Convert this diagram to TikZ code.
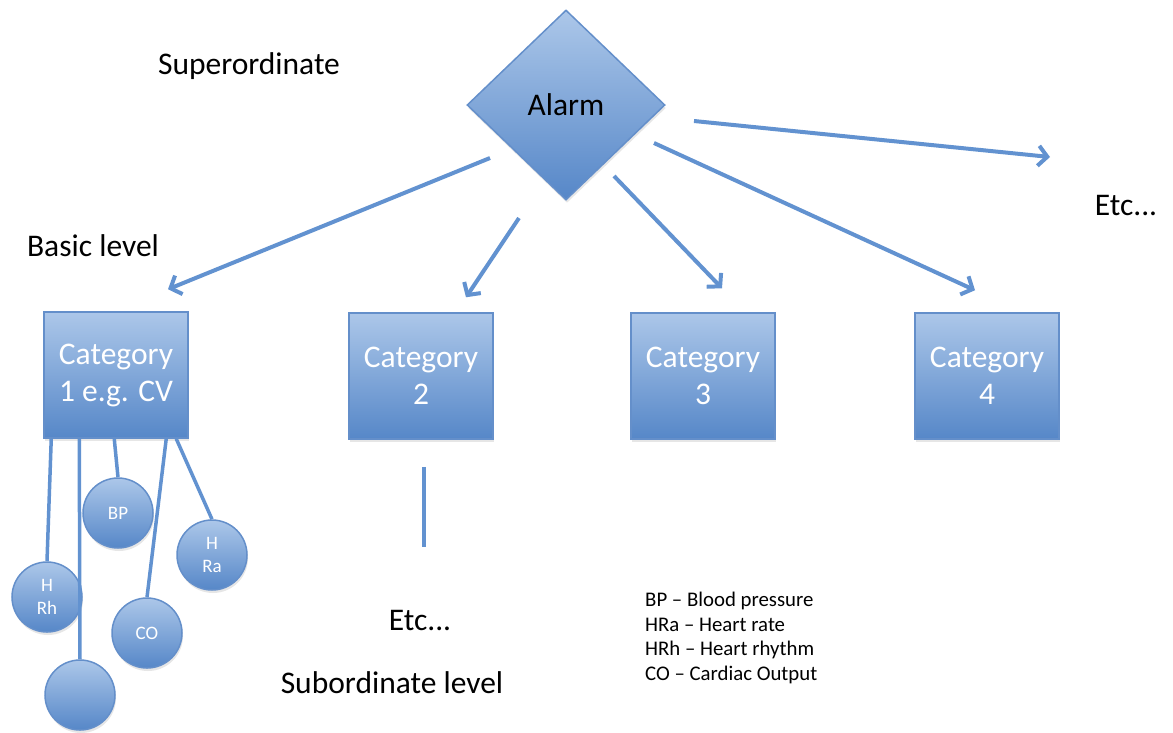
\documentclass[tikz,border=0pt]{standalone}
\usepackage{fontspec}
\setmainfont{Carlito}
\usetikzlibrary{shapes.geometric, arrows.meta, shadows}

\definecolor{boxtop}{RGB}{172,199,233}
\definecolor{boxbottom}{RGB}{86,135,200}
\definecolor{boxline}{RGB}{100,143,202}
\definecolor{linkblue}{RGB}{98,146,208}

\begin{document}
\begin{tikzpicture}
  [
    x = 1pt, y = -1pt,
    every node/.style = {font = \fontsize{31.5}{37}\selectfont},
    blob/.style = {draw = boxline, line width = 1.5pt, top color = boxtop, bottom color = boxbottom,
                   drop shadow = {opacity = 0.2, shadow xshift = 1pt, shadow yshift = -3pt}},
    catbox/.style = {blob, rectangle, minimum width = 144pt, minimum height = 126pt,
                     text = white, align = center},
    subnode/.style = {blob, circle, minimum size = 70pt, inner sep = 0pt, text = white,
                      align = center, font = \fontsize{19}{23}\selectfont},
    link/.style = {draw = linkblue, line width = 4pt, -{Straight Barb[length = 9pt, width = 20pt]}},
    stem/.style = {draw = linkblue, line width = 3.5pt},
    caption/.style = {text = black}
  ]
  \useasboundingbox (0,0) rectangle (1173,732);

  \node [blob, diamond, minimum width = 198pt, minimum height = 190pt, inner sep = 0pt] (Alarm) at (566,105) {Alarm};

  \node [catbox] (C1) at (116,375) {Category\\1 e.g. CV};
  \node [catbox] (C2) at (421,376) {Category\\2};
  \node [catbox] (C3) at (703,376) {Category\\3};
  \node [catbox] (C4) at (987,376) {Category\\4};

  \node [subnode] (BP)  at (118,513) {BP};
  \node [subnode] (HRa) at (212,555) {H\\Ra};
  \node [subnode] (HRh) at (47,597)  {H\\Rh};
  \node [subnode] (CO)  at (147,633) {CO};
  \node [subnode] (S5)  at (80,695)  {};

  \begin{scope}[nodes = {caption}]
    \node (Sup)  at (249,66)  {Superordinate};
    \node (Bas)  at (93,246)  {Basic level};
    \node (Etc1) at (1126,206) {Etc...};
    \node (Etc2) at (420,621) {Etc...};
    \node (Sub)  at (392,683) {Subordinate level};
    \node [anchor = west, inner sep = 0pt, align = left, font = \fontsize{20.8}{24.7}\selectfont] (Key) at (645,638)
      {BP -- Blood pressure\\HRa -- Heart rate\\HRh -- Heart rhythm\\CO -- Cardiac Output};
  \end{scope}

  % superordinate to basic level
  \draw [link] ([shift={(-76,53)}]Alarm.center) -- ([shift={(52,-22)}]C1.north);
  \draw [link] ([shift={(-47,113)}]Alarm.center) -- ([shift={(45,-15)}]C2.north);
  \draw [link] ([shift={(48,71)}]Alarm.center) -- ([shift={(19,-24)}]C3.north);
  \draw [link] ([shift={(88,38)}]Alarm.center) -- ([shift={(-12,-22)}]C4.north);
  \draw [link] ([shift={(128,16)}]Alarm.center) -- ([shift={(-76,-49)}]Etc1.center);

  % basic to subordinate level
  \draw [stem] ([xshift=8pt]C1.south west)   -- (HRh.north);
  \draw [stem] ([xshift=36pt]C1.south west)  -- (S5.north);
  \draw [stem] ([xshift=71pt]C1.south west)  -- (BP.north);
  \draw [stem] ([xshift=123pt]C1.south west) -- (CO.north);
  \draw [stem] ([xshift=133pt]C1.south west) -- (HRa.north);
  \draw [stem] ([shift={(3,27)}]C2.south) -- ([shift={(3,107)}]C2.south);
\end{tikzpicture}
\end{document}
